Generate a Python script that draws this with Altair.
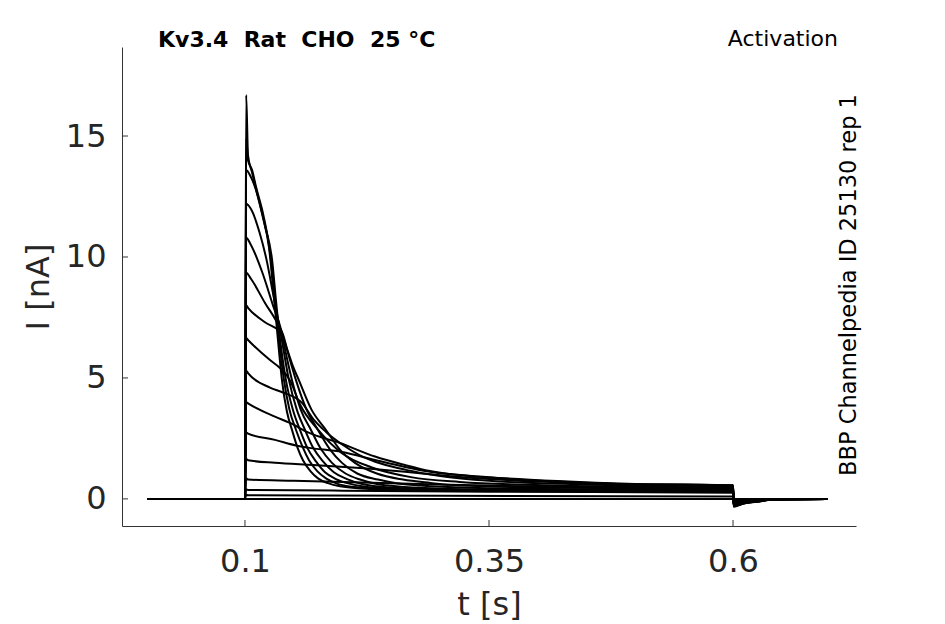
import altair as alt
import pandas as pd

# ---- data ----
pre_t = [0.0, 0.1]
pre_i = [0.0, 0.0]
tail_t = [0.6008, 0.61, 0.625, 0.64, 0.697]

t1 = [0.1012, 0.1031, 0.1072, 0.1113, 0.1180, 0.1246, 0.1300, 0.1328, 0.1379, 0.1430, 0.1482, 0.1540, 0.1594, 0.1670, 0.1748, 0.1850, 0.1973, 0.2300, 0.2793, 0.35, 0.45, 0.6]
i1 = [16.7, 14.2, 13.5, 12.8, 11.7, 10.4, 8.2, 7.0, 4.9, 3.6, 2.85, 2.1, 1.6, 1.15, 0.85, 0.65, 0.52, 0.4, 0.35, 0.33, 0.31, 0.3]
tail1 = [-0.32, -0.2, -0.1, -0.02, 0.0]

t2 = [0.1012, 0.1031, 0.1072, 0.1113, 0.1190, 0.1256, 0.1310, 0.1338, 0.1400, 0.1455, 0.1523, 0.1590, 0.1656, 0.1740, 0.1830, 0.1950, 0.2100, 0.2400, 0.2800, 0.35, 0.45, 0.6]
i2 = [14.9, 14.0, 13.6, 12.9, 11.7, 10.2, 8.1, 7.0, 4.9, 3.7, 2.85, 2.15, 1.6, 1.15, 0.85, 0.62, 0.5, 0.41, 0.37, 0.34, 0.33, 0.32]
tail2 = [-0.3, -0.18, -0.12, -0.03, 0.0]

t3 = [0.1012, 0.1061, 0.1133, 0.1205, 0.1277, 0.1320, 0.1348, 0.1420, 0.1490, 0.1564, 0.1640, 0.1727, 0.1820, 0.1932, 0.2080, 0.2200, 0.2500, 0.2900, 0.35, 0.45, 0.6]
i3 = [13.6, 13.3, 12.5, 11.3, 9.9, 8.1, 7.0, 4.9, 3.7, 2.85, 2.1, 1.55, 1.1, 0.82, 0.62, 0.52, 0.42, 0.38, 0.36, 0.35, 0.34]
tail3 = [-0.3, -0.2, -0.1, -0.02, 0.0]

t4 = [0.1012, 0.1072, 0.1150, 0.1220, 0.1287, 0.1330, 0.1359, 0.1451, 0.1530, 0.1615, 0.1700, 0.1799, 0.1910, 0.2045, 0.2200, 0.2400, 0.2900, 0.35, 0.45, 0.6]
i4 = [12.2, 11.9, 11.0, 9.9, 8.5, 7.6, 7.0, 4.9, 3.7, 2.85, 2.1, 1.55, 1.1, 0.82, 0.62, 0.5, 0.4, 0.37, 0.36, 0.35]
tail4 = [-0.28, -0.15, -0.12, -0.02, 0.0]

t5 = [0.1012, 0.1061, 0.1174, 0.1287, 0.1369, 0.1420, 0.1482, 0.1570, 0.1676, 0.1780, 0.1891, 0.2030, 0.2178, 0.2350, 0.2500, 0.3000, 0.35, 0.45, 0.6]
i5 = [10.8, 10.5, 9.4, 8.0, 7.0, 6.0, 4.9, 3.7, 2.85, 2.05, 1.49, 1.05, 0.8, 0.62, 0.54, 0.42, 0.39, 0.38, 0.37]
tail5 = [-0.27, -0.18, -0.08, -0.02, 0.0]

t6 = [0.1012, 0.1061, 0.1205, 0.1328, 0.1389, 0.1450, 0.1523, 0.1630, 0.1748, 0.1870, 0.1994, 0.2150, 0.2363, 0.2550, 0.2800, 0.3300, 0.45, 0.6]
i6 = [9.35, 9.1, 8.1, 7.3, 6.8, 5.9, 4.9, 3.7, 2.85, 2.05, 1.49, 1.05, 0.8, 0.65, 0.55, 0.46, 0.4, 0.38]
tail6 = [-0.26, -0.15, -0.1, -0.02, 0.0]

t7 = [0.1012, 0.1031, 0.1205, 0.1359, 0.1430, 0.1490, 0.1553, 0.1680, 0.1830, 0.1970, 0.2127, 0.2350, 0.2619, 0.2900, 0.3100, 0.4000, 0.6]
i7 = [8.0, 7.9, 7.3, 6.9, 6.2, 5.5, 4.9, 3.7, 2.85, 2.05, 1.49, 1.05, 0.8, 0.66, 0.58, 0.47, 0.42]
tail7 = [-0.25, -0.14, -0.08, -0.01, 0.0]

t8 = [0.1012, 0.1031, 0.1256, 0.1359, 0.1461, 0.1564, 0.1750, 0.1990, 0.2300, 0.2700, 0.3200, 0.4200, 0.6]
i8 = [6.65, 6.57, 5.74, 5.41, 4.9, 3.9, 2.85, 1.9, 1.3, 0.9, 0.7, 0.55, 0.45]
tail8 = [-0.24, -0.12, -0.07, -0.01, 0.0]

t9 = [0.1012, 0.1031, 0.1256, 0.1389, 0.1584, 0.1700, 0.1830, 0.2004, 0.2209, 0.2400, 0.2650, 0.3000, 0.3500, 0.4500, 0.6]
i9 = [5.3, 5.2, 4.6, 4.4, 3.97, 3.3, 2.77, 2.23, 1.74, 1.45, 1.2, 0.95, 0.75, 0.6, 0.5]
tail9 = [-0.22, -0.12, -0.06, -0.01, 0.0]

t10 = [0.1012, 0.1031, 0.1307, 0.1461, 0.1646, 0.1973, 0.2332, 0.2640, 0.2895, 0.35, 0.42, 0.5, 0.6]
i10 = [4.0, 3.95, 3.4, 3.14, 2.75, 2.31, 1.75, 1.4, 1.15, 0.88, 0.72, 0.6, 0.55]
tail10 = [-0.2, -0.1, -0.05, 0.0, 0.0]

t11 = [0.1012, 0.1031, 0.1307, 0.1533, 0.1646, 0.1994, 0.2332, 0.2640, 0.2895, 0.35, 0.42, 0.5, 0.6]
i11 = [2.75, 2.7, 2.44, 2.2, 2.12, 1.94, 1.61, 1.32, 1.12, 0.9, 0.74, 0.62, 0.56]
tail11 = [-0.18, -0.1, -0.05, 0.0, 0.0]

t12 = [0.1012, 0.1031, 0.1307, 0.1700, 0.2100, 0.2640, 0.3000, 0.3500, 0.4500, 0.6]
i12 = [1.65, 1.6, 1.49, 1.4, 1.3, 1.12, 0.98, 0.82, 0.65, 0.55]
tail12 = [-0.15, -0.08, -0.03, 0.0, 0.0]

t13 = [0.1012, 0.1031, 0.1500, 0.2000, 0.2800, 0.3500, 0.4500, 0.6]
i13 = [0.85, 0.8, 0.75, 0.7, 0.62, 0.55, 0.48, 0.42]
tail13 = [-0.1, -0.05, -0.02, 0.0, 0.0]

t14 = [0.1012, 0.1031, 0.2000, 0.3500, 0.6]
i14 = [0.4, 0.37, 0.34, 0.3, 0.25]
tail14 = [-0.05, -0.02, 0.0, 0.0, 0.0]

t15 = [0.1012, 0.1031, 0.3000, 0.6]
i15 = [0.17, 0.15, 0.13, 0.1]
tail15 = [-0.02, 0.0, 0.0, 0.0, 0.0]

t16 = [0.1012, 0.6]
i16 = [0.0, 0.0]
tail16 = [0.0, 0.0, 0.0, 0.0, 0.0]

x_ticks = [0.1, 0.35, 0.6]
y_ticks = [0, 5, 10, 15]

title_left = "Kv3.4\u00a0\u00a0Rat\u00a0\u00a0CHO\u00a0\u00a025\u00a0°C"
title_right = "Activation"
side_label = "BBP Channelpedia ID 25130 rep 1"
x_title = "t [s]"
y_title = "I [nA]"

traces = [
    (t1, i1, tail1), (t2, i2, tail2), (t3, i3, tail3), (t4, i4, tail4),
    (t5, i5, tail5), (t6, i6, tail6), (t7, i7, tail7), (t8, i8, tail8),
    (t9, i9, tail9), (t10, i10, tail10), (t11, i11, tail11), (t12, i12, tail12),
    (t13, i13, tail13), (t14, i14, tail14), (t15, i15, tail15), (t16, i16, tail16),
]

rows = []
for k, (tt, ii, tl) in enumerate(traces):
    ts = pre_t + tt + tail_t
    vs = pre_i + ii + tl
    for o, (a, b) in enumerate(zip(ts, vs)):
        rows.append({"trace": k, "order": o, "t": a, "I": b})
df = pd.DataFrame(rows)

W, H = 734, 479
FONT = "DejaVu Sans"
xscale = alt.Scale(domain=[-0.026, 0.726], nice=False, zero=False)
yscale = alt.Scale(domain=[-1.12, 18.68], nice=False, zero=False)

xaxis = alt.Axis(
    values=x_ticks, format=".2~f", title=x_title, ticks=False, grid=False,
    labelPadding=20, titleX=367, titleY=78, titleBaseline="middle", titleAlign="center",
)
yaxis = alt.Axis(
    values=y_ticks, format="d", title=y_title, ticks=False, grid=False,
    labelPadding=16, titleX=-84, titleY=239.5, titleAngle=270,
    titleBaseline="middle", titleAlign="center",
)

lines = alt.Chart(df).mark_line(color="black", strokeWidth=2, interpolate="monotone").encode(
    x=alt.X("t:Q", scale=xscale, axis=xaxis),
    y=alt.Y("I:Q", scale=yscale, axis=yaxis),
    detail="trace:N",
    order="order:Q",
)

xt = alt.Chart(pd.DataFrame({"t": x_ticks})).mark_rule(color="#333333", strokeWidth=1).encode(
    x=alt.X("t:Q", scale=xscale, axis=xaxis), y=alt.value(H), y2=alt.value(H - 6)
)
yt = alt.Chart(pd.DataFrame({"I": y_ticks})).mark_rule(color="#333333", strokeWidth=1).encode(
    y=alt.Y("I:Q", scale=yscale, axis=yaxis), x=alt.value(0), x2=alt.value(6)
)

txt_df = pd.DataFrame({"a": [title_left], "b": [title_right], "c": [side_label]})
t_left = alt.Chart(txt_df).mark_text(font=FONT, fontSize=22, fontWeight="bold", align="left",
                                     baseline="alphabetic", color="black").encode(
    text="a:N", x=alt.value(36), y=alt.value(0))
t_right = alt.Chart(txt_df).mark_text(font=FONT, fontSize=22, align="right",
                                      baseline="alphabetic", color="black").encode(
    text="b:N", x=alt.value(716), y=alt.value(-1))
t_side = alt.Chart(txt_df).mark_text(font=FONT, fontSize=22.5, align="center", angle=270,
                                     baseline="middle", color="black").encode(
    text="c:N", x=alt.value(727), y=alt.value(238))

chart = alt.layer(lines, xt, yt, t_left, t_right, t_side).properties(
    width=W, height=H,
    autosize=alt.AutoSizeParams(type="none"),
    padding={"left": 114, "top": 39, "right": 60, "bottom": 96},
).configure_view(stroke=None).configure_axis(
    labelFont=FONT, titleFont=FONT, labelFontSize=32, titleFontSize=32,
    labelColor="#262626", titleColor="#262626", titleFontWeight="normal",
    domainColor="#333333", domainWidth=1,
)

chart.save("out.html", embed_options={"renderer": "svg", "actions": False})
